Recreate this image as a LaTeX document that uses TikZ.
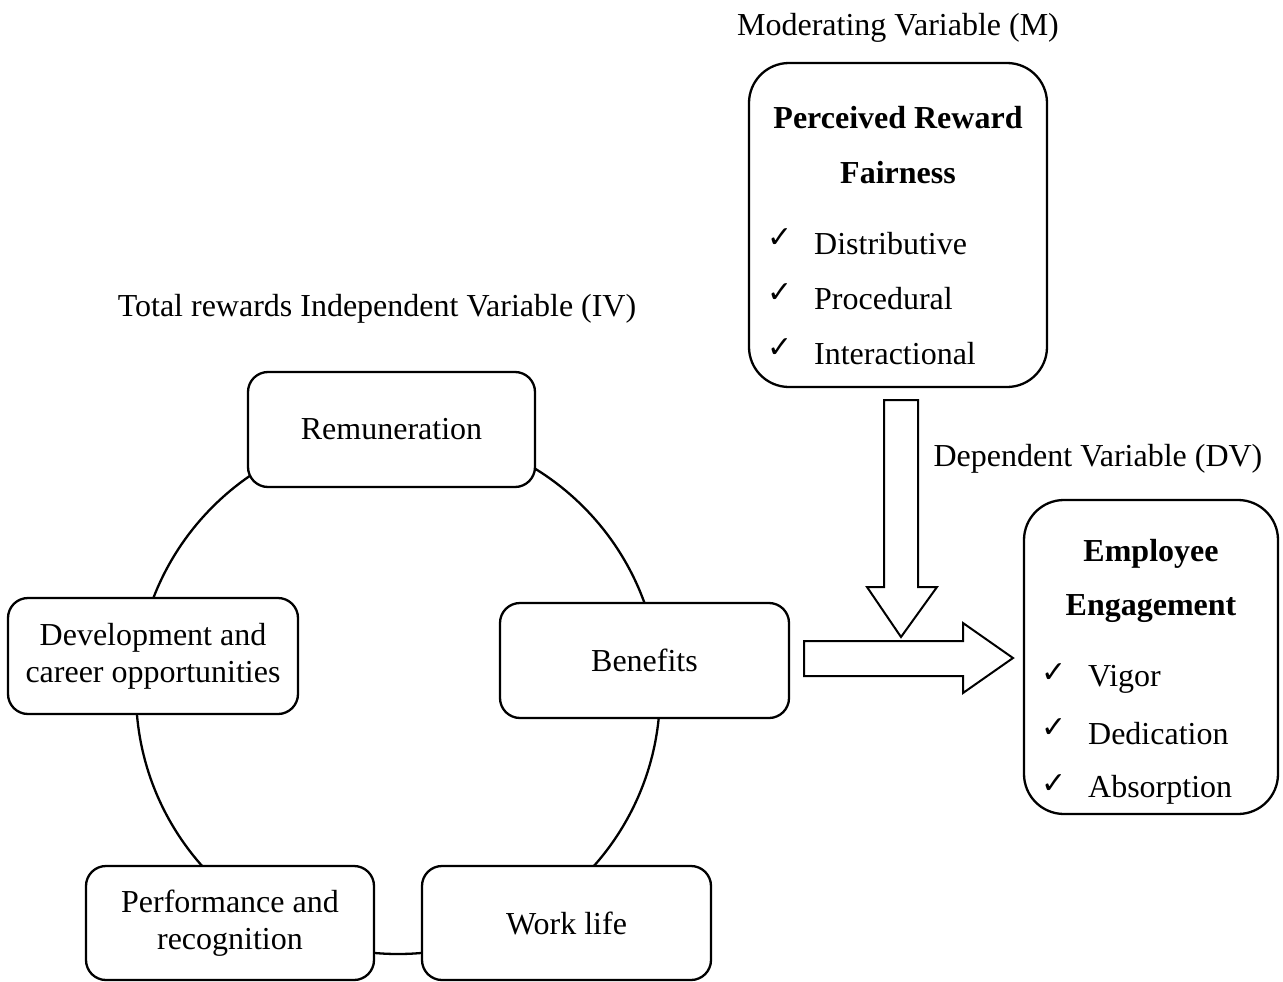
\documentclass[tikz,border=0pt]{standalone}
\usepackage{fontspec}
\setmainfont{Liberation Serif}
\newfontfamily\symfont{DejaVu Sans}
\newcommand{\fs}{\fontsize{32pt}{40pt}\selectfont}
\newcommand{\fb}{\fontsize{32pt}{37pt}\selectfont}
\newcommand{\ck}{{\symfont\fontsize{30pt}{30pt}\selectfont ✓}}
\begin{document}
\begin{tikzpicture}[x=1pt,y=-1pt, line width=2.3pt,
  box/.style={draw, fill=white, rounded corners=20pt, align=center, font=\fb, inner sep=0pt},
  bigbox/.style={draw, fill=white, rounded corners=40pt, inner sep=0pt},
  lbl/.style={font=\fs, inner sep=0pt},
  blk/.style={draw, fill=white, line width=2pt, line join=miter}]
\path[use as bounding box] (0,0) rectangle (1283,982);
% circle of total rewards
\draw (398,692) circle[radius=262pt];
\node[box, minimum width=287pt, minimum height=115pt] (rem) at (391.5,429.5) {\raisebox{-3pt}{Remuneration}};
\node[box, minimum width=289pt, minimum height=115pt] (ben) at (644.5,660.5) {\raisebox{-3pt}{Benefits}};
\node[box, minimum width=290pt, minimum height=116pt] (dev) at (153,656) {\raisebox{-3pt}{Development and}\\\raisebox{-3pt}{career opportunities}};
\node[box, minimum width=288pt, minimum height=114pt] (perf) at (230,923) {\raisebox{-3pt}{Performance and}\\\raisebox{-3pt}{recognition}};
\node[box, minimum width=289pt, minimum height=114pt] (work) at (566.5,923) {\raisebox{-3pt}{Work life}};
% labels
\node[lbl] (tlbl) at (377,309) {Total rewards Independent Variable (IV)};
\node[lbl] (mlbl) at (898,28) {Moderating Variable (M)};
\node[lbl] (dlbl) at (1098,459) {Dependent Variable (DV)};
% moderator box
\node[bigbox, minimum width=298pt, minimum height=324pt] (prf) at (898,225) {};
\node[lbl, font=\fs\bfseries] (prf1) at (898,118) {Perceived Reward};
\node[lbl, font=\fs\bfseries] (prf2) at (898,173) {Fairness};
\foreach \t/\y [count=\i] in {Distributive/244, Procedural/299, Interactional/354}{
  \node[inner sep=0pt] (pc\i) at (780,\y-6) {\ck};
  \node[lbl, anchor=west] (pt\i) at (813,\y) {\t};
}
% dependent box
\node[bigbox, minimum width=254pt, minimum height=314pt] (ee) at (1151,657) {};
\node[lbl, font=\fs\bfseries] (ee1) at (1151,554) {Employee};
\node[lbl, font=\fs\bfseries] (ee2) at (1151,609) {Engagement};
\foreach \t/\y [count=\i] in {Vigor/679, Dedication/734, Absorption/790}{
  \node[inner sep=0pt] (ec\i) at (1054,\y-6) {\ck};
  \node[lbl, anchor=west] (et\i) at (1087,\y) {\t};
}
% block arrows
\draw[blk] (884,400) -- (918,400) -- (918,587) -- (937,587) -- (901,637) -- (867,587) -- (884,587) -- cycle;
\draw[blk] (804,641) -- (963,641) -- (963,623) -- (1013,658) -- (963,693) -- (963,676) -- (804,676) -- cycle;
\end{tikzpicture}
\end{document}
